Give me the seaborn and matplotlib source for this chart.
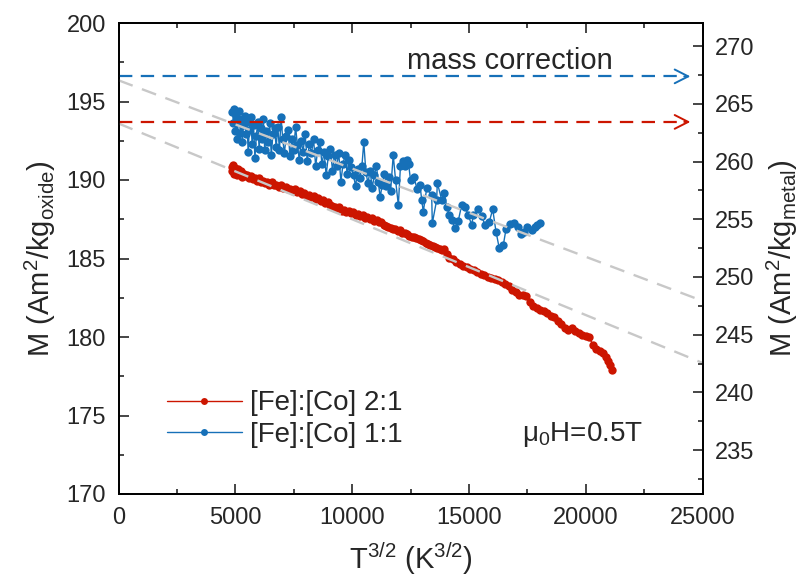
import matplotlib
matplotlib.use("Agg")
import matplotlib.pyplot as plt
from matplotlib.ticker import MultipleLocator
import pandas as pd
import seaborn as sns

# [Fe]:[Co] 2:1 sample, M in Am2/kg_oxide vs T^(3/2)
red_t = [4850, 4880, 4910, 4950, 4990, 5030, 5080, 5130, 5180, 5240, 5300, 5370, 5440, 5510,
         5590, 5670, 5750, 5830, 5910, 6000, 6090, 6180, 6270, 6360, 6450, 6550, 6650, 6750,
         6850, 6950, 7050, 7150, 7250, 7350, 7450, 7550, 7650, 7750, 7850, 7950, 8050, 8150,
         8250, 8350, 8450, 8550, 8650, 8750, 8850, 8950, 9050, 9150, 9250, 9350, 9450, 9550,
         9650, 9750, 9850, 9950, 10050, 10150, 10250, 10350, 10450, 10550, 10650, 10750, 10850,
         10950, 11050, 11150, 11250, 11350, 11450, 11550, 11650, 11750, 11850, 11950, 12050,
         12150, 12250, 12350, 12450, 12550, 12650, 12750, 12850, 12950, 13050, 13150, 13250,
         13350, 13450, 13550, 13650, 13750, 13850, 13950, 14050, 14150, 14300, 14450, 14600,
         14750, 14900, 15050, 15200, 15350, 15500, 15650, 15800, 15950, 16100, 16250, 16400,
         16550, 16700, 16850, 17000, 17150, 17300, 17450, 17600, 17750, 17900, 18050, 18200,
         18350, 18500, 18650, 18800, 18950, 19100, 19250, 19400, 19550, 19700, 19850, 20000,
         20150, 20300, 20450, 20600, 20750, 20850, 20950, 21030, 21113]
red_m = [190.85, 190.55, 190.95, 190.40, 190.75, 190.60, 190.30, 190.70, 190.45, 190.55, 190.20,
         190.40, 190.25, 190.35, 190.10, 190.25, 190.05, 190.15, 189.95, 190.10, 189.90, 189.95,
         189.80, 189.90, 189.70, 189.85, 189.65, 189.70, 189.55, 189.65, 189.50, 189.55, 189.40,
         189.45, 189.30, 189.40, 189.25, 189.30, 189.10, 189.15, 189.00, 189.05, 188.90, 188.95,
         188.80, 188.85, 188.65, 188.70, 188.55, 188.60, 188.40, 188.35, 188.30, 188.20, 188.25,
         188.05, 188.10, 187.95, 188.00, 187.90, 187.95, 187.80, 187.85, 187.70, 187.75, 187.60,
         187.65, 187.50, 187.55, 187.40, 187.45, 187.30, 187.35, 187.15, 187.10, 187.00, 186.95,
         186.85, 186.90, 186.75, 186.80, 186.65, 186.60, 186.55, 186.45, 186.40, 186.35, 186.30,
         186.25, 186.20, 186.10, 186.00, 185.95, 185.85, 185.80, 185.75, 185.65, 185.60, 185.55,
         185.60, 185.30, 185.05, 184.95, 184.80, 184.65, 184.55, 184.45, 184.35, 184.25, 184.15,
         184.00, 183.95, 183.85, 183.75, 183.70, 183.60, 183.50, 183.40, 183.25, 183.00, 182.85,
         182.70, 182.65, 182.60, 182.20, 181.95, 181.85, 181.75, 181.65, 181.50, 181.35, 181.25,
         181.05, 180.80, 180.55, 180.45, 180.55, 180.40, 180.25, 180.15, 180.05, 180.00, 179.50,
         179.25, 179.10, 178.95, 178.70, 178.45, 178.20, 177.90]

# [Fe]:[Co] 1:1 sample (noisier)
blue_t = [4880, 4920, 4960, 5000, 5040, 5080, 5130, 5170, 5210, 5260, 5300, 5350, 5400, 5450,
          5500, 5550, 5600, 5660, 5720, 5780, 5840, 5900, 5960, 6020, 6080, 6140, 6200, 6260,
          6330, 6400, 6470, 6540, 6610, 6680, 6750, 6820, 6890, 6960, 7030, 7100, 7180, 7260,
          7340, 7420, 7500, 7580, 7660, 7740, 7820, 7900, 7990, 8080, 8170, 8260, 8350, 8440,
          8530, 8620, 8710, 8800, 8890, 8980, 9070, 9160, 9250, 9340, 9430, 9520, 9610, 9700,
          9790, 9880, 9970, 10060, 10150, 10240, 10330, 10420, 10500, 10590, 10680, 10770,
          10860, 10950, 11040, 11120, 11200, 11290, 11380, 11470, 11560, 11650, 11760, 11860,
          11980, 12070, 12160, 12250, 12340, 12420, 12500, 12650, 12780, 12907, 12980, 13048,
          13193, 13407, 13433, 13621, 13647, 13836, 13947, 14050, 14161, 14264, 14405, 14546,
          14692, 14833, 14974, 15120, 15188, 15402, 15548, 15689, 15873, 16019, 16160, 16301,
          16473, 16588, 16759, 16930, 17115, 17217, 17359, 17500, 17688, 17830, 17928, 18044]
blue_m = [194.3, 193.6, 194.5, 193.1, 194.2, 192.6, 193.8, 194.4, 193.0, 193.9, 192.4, 193.5,
          194.1, 192.9, 193.7, 191.8, 193.2, 194.0, 192.3, 193.5, 191.4, 192.8, 193.7, 192.0,
          193.3, 192.6, 193.9, 191.9, 193.1, 192.4, 193.6, 191.6, 192.9, 193.3, 192.1, 193.4,
          191.9, 194.0, 192.6, 191.7, 192.8, 193.2, 191.5, 192.6, 191.9, 193.4, 192.2, 191.3,
          192.5, 191.8, 192.9, 191.2, 192.3, 191.7, 192.6, 190.9, 191.9, 192.4, 191.0, 191.8,
          190.3, 191.5, 192.0, 190.6, 191.6, 190.9, 191.7, 189.9, 191.0, 191.6, 190.4, 191.3,
          190.8, 190.3, 189.6, 190.7, 190.1, 190.9, 192.4, 190.5, 189.8, 190.6, 189.5, 190.3,
          190.9, 189.9, 188.9, 189.7, 190.4, 189.6, 190.2, 189.3, 191.6, 190.0, 188.4, 190.9,
          191.2, 190.9, 191.3, 191.0, 190.0, 190.2, 189.4, 189.68, 188.73, 187.98, 189.47,
          189.04, 187.24, 188.73, 189.83, 188.73, 189.19, 188.3, 187.77, 187.45, 186.96, 187.41,
          188.41, 188.3, 187.77, 187.13, 187.77, 188.15, 187.71, 187.13, 187.34, 188.13, 186.71,
          185.65, 185.86, 186.86, 187.2, 187.28, 187.03, 186.56, 186.71, 187.03, 186.82, 187.03,
          187.13, 187.24]

# linear fits (gray dashed) and mass-correction levels
fit_t = [0, 25000]
fit_upper = [196.35, 182.3]
fit_lower = [193.6, 178.35]
corr_blue = 196.6
corr_red = 193.7
arrow_end = 24600

red_col = "#cc1500"
blue_col = "#1670b8"

sns.set_style("ticks")
plt.rcParams["font.family"] = ["Liberation Sans", "DejaVu Sans"]
plt.rcParams["mathtext.fontset"] = "custom"
plt.rcParams["mathtext.rm"] = "Liberation Sans"
plt.rcParams["mathtext.it"] = "Liberation Sans:italic"
plt.rcParams["mathtext.bf"] = "Liberation Sans:bold"

df_red = pd.DataFrame({"t": red_t, "m": red_m})
df_blue = pd.DataFrame({"t": blue_t, "m": blue_m})

fig = plt.figure(figsize=(7.99, 5.79), dpi=100)
ax = fig.add_axes([118.5 / 799, 1 - 494 / 579, 584 / 799, 471 / 579])

sns.lineplot(data=df_red, x="t", y="m", ax=ax, color=red_col, lw=1.0, marker="o",
             markersize=6, markeredgewidth=0, sort=False, estimator=None,
             label="[Fe]:[Co] 2:1")
sns.lineplot(data=df_blue, x="t", y="m", ax=ax, color=blue_col, lw=1.0, marker="o",
             markersize=6, markeredgewidth=0, sort=False, estimator=None,
             label="[Fe]:[Co] 1:1")

# fit lines
ax.plot(fit_t, fit_upper, color="#c8c8c8", lw=1.7, dashes=(6.4, 4.2), zorder=5)
ax.plot(fit_t, fit_lower, color="#c8c8c8", lw=1.7, dashes=(6.4, 4.2), zorder=5)

# mass correction arrows
for lvl, col in [(corr_blue, blue_col), (corr_red, red_col)]:
    ax.plot([0, arrow_end - 300], [lvl, lvl], color=col, lw=1.6, dashes=(6, 3.8), zorder=6)
    ax.annotate("", xy=(arrow_end, lvl), xytext=(arrow_end - 500, lvl),
                arrowprops=dict(arrowstyle="->,head_length=0.65,head_width=0.33",
                                color=col, lw=1.4, mutation_scale=15), zorder=6)

ax.text(16740, 197.08, "mass correction", ha="center", va="baseline", fontsize=21)
ax.text(17260, 173.76, "μ$_0$H=0.5T", ha="left", va="center", fontsize=20)

ax.set_xlim(0, 25000)
ax.set_ylim(170, 200)
ax.xaxis.set_major_locator(MultipleLocator(5000))
ax.xaxis.set_minor_locator(MultipleLocator(2500))
ax.yaxis.set_major_locator(MultipleLocator(5))
ax.yaxis.set_minor_locator(MultipleLocator(2.5))
ax.tick_params(which="both", direction="in", top=True, right=False, width=1.2,
               labelsize=17, pad=9)
ax.tick_params(which="major", length=7)
ax.tick_params(which="minor", length=3.6)

ax.set_xlabel("T$^{3/2}$ (K$^{3/2}$)", fontsize=21)
ax.set_ylabel("M (Am$^2$/kg$_{\\mathrm{oxide}}$)", fontsize=21)
ax.xaxis.set_label_coords(0.5, -0.098)
ax.yaxis.set_label_coords(-0.104, 0.5)

ax2 = ax.twinx()
ax2.set_ylim(170 * 1.36, 200 * 1.36)
ax2.yaxis.set_major_locator(MultipleLocator(5))
ax2.yaxis.set_minor_locator(MultipleLocator(2.5))
ax2.tick_params(which="both", direction="in", width=1.2, labelsize=17, pad=9)
ax2.tick_params(which="major", length=7)
ax2.tick_params(which="minor", length=3.6)
ax2.set_ylabel("M (Am$^2$/kg$_{\\mathrm{metal}}$)", fontsize=21)
ax2.yaxis.set_label_coords(1.107, 0.5)

for a in (ax, ax2):
    for s in a.spines.values():
        s.set_linewidth(1.3)
        s.set_color("black")

leg = ax.legend(loc="center left", bbox_to_anchor=(0.083, 0.159), frameon=False,
                fontsize=20, handlelength=2.7, handletextpad=0.3, labelspacing=0.2,
                borderpad=0, borderaxespad=0, numpoints=1)
for h in leg.legend_handles:
    h.set_markersize(5)

fig.savefig("out.png", dpi=100)
